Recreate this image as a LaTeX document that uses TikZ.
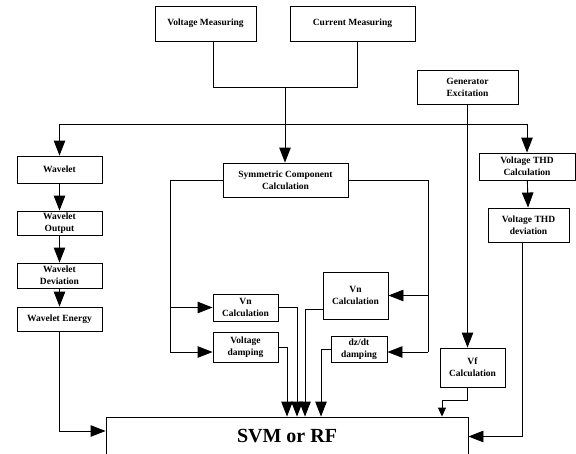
\documentclass[tikz,border=0pt]{standalone}
\usepackage{fontspec}
\setmainfont{Liberation Serif}
\usetikzlibrary{arrows.meta}

\tikzset{
  blk/.style={draw, line width=0.9pt, align=center, inner sep=0pt,
    font=\fontsize{9.5}{12}\selectfont\bfseries},
  arr/.style={-{Triangle[length=15pt,width=11.5pt]}},
  sarr/.style={-{Triangle[length=9pt,width=8pt]}}
}

\begin{document}
\begin{tikzpicture}[x=1pt,y=-1pt,line width=0.9pt]
				\useasboundingbox (0,0) rectangle (576,453);
				% inputs
				\node[blk, minimum width=101, minimum height=35] (vm) at (205.5,23.5) {Voltage Measuring};
				\node[blk, minimum width=125, minimum height=35] (cm) at (352.5,23.5) {Current Measuring};
				\node[blk, minimum width=101, minimum height=34] (ge) at (467.5,87) {Generator\\Excitation};
				% wavelet column
				\node[blk, minimum width=85, minimum height=27] (wav) at (59.5,169.5) {Wavelet};
				\node[blk, minimum width=85, minimum height=24] (wout) at (59.5,223) {Wavelet\\Output};
				\node[blk, minimum width=85, minimum height=25] (wdev) at (59.5,275.5) {Wavelet\\Deviation};
				\node[blk, minimum width=85, minimum height=24] (wen) at (59.5,319) {Wavelet Energy};
				% symmetric components
				\node[blk, minimum width=125, minimum height=34] (sym) at (285.5,180) {Symmetric Component\\Calculation};
				\node[blk, minimum width=65, minimum height=27] (vn1) at (245.5,307.5) {Vn\\Calculation};
				\node[blk, minimum width=65, minimum height=30] (vd) at (245.5,347) {Voltage\\damping};
				\node[blk, minimum width=65, minimum height=47] (vn2) at (355.5,295.5) {Vn\\Calculation};
				\node[blk, minimum width=56, minimum height=26] (dz) at (359,349) {dz/dt\\damping};
				% THD column
				\node[blk, minimum width=96, minimum height=27] (thdc) at (527,166.5) {Voltage THD\\Calculation};
				\node[blk, minimum width=81, minimum height=34] (thdd) at (528.5,225) {Voltage THD\\deviation};
				\node[blk, minimum width=65, minimum height=39] (vf) at (472.5,367.5) {Vf\\Calculation};
				% classifier
				\node[draw, line width=0.9pt, minimum width=362, minimum height=39, inner sep=0pt,
				  font=\fontsize{20}{24}\selectfont\bfseries] (svm) at (287,436.5) {SVM or RF};

				\coordinate (join) at (285,87);
				\coordinate (busy) at (0,124);
				\coordinate (lbus) at (170,352);
				\coordinate (rbus) at (428,352);

				\draw ([xshift=7.5pt]vm.south) |- (join);
				\draw ([xshift=4.5pt]cm.south) |- (join);
				\draw[arr] (join) -- (join |- sym.north);
				\draw[arr] (join |- busy) -| (wav.north);
				\draw[arr] (join |- busy) -| (thdc.north);

				\draw[arr] (wav) -- (wout);
				\draw[arr] (wout) -- (wdev);
				\draw[arr] (wdev) -- (wen);
				\draw[arr] (wen.south) |- ([yshift=5.5pt]svm.west);

				\draw (sym.west) -| (lbus);
				\draw[arr] (lbus |- vn1.west) -- (vn1.west);
				\draw[arr] (lbus) -- (lbus -| vd.west);
				\draw (sym.east) -| (rbus);
				\draw[arr] (rbus |- vn2.east) -- (vn2.east);
				\draw[arr] (rbus) -- (rbus -| dz.east);

				\draw[arr] (vd.east) -| (svm.north);
				\draw[arr] (vn1.east) -| ([xshift=10pt]svm.north);
				\draw[arr] ([yshift=-13.5pt]vn2.west) -| ([xshift=18pt]svm.north);
				\draw[arr] (dz.west) -| ([xshift=34pt]svm.north);

				\draw[arr] (thdc) -- (thdd);
				\draw[arr] ([xshift=-6.5pt]thdd.south) |- (svm.east);

				\draw[arr] (ge.south) -- (ge.south |- vf.north);
				\draw[sarr] (ge.south |- vf.south) -- ++(0,13) -| ([xshift=155pt]svm.north);
\end{tikzpicture}
\end{document}
